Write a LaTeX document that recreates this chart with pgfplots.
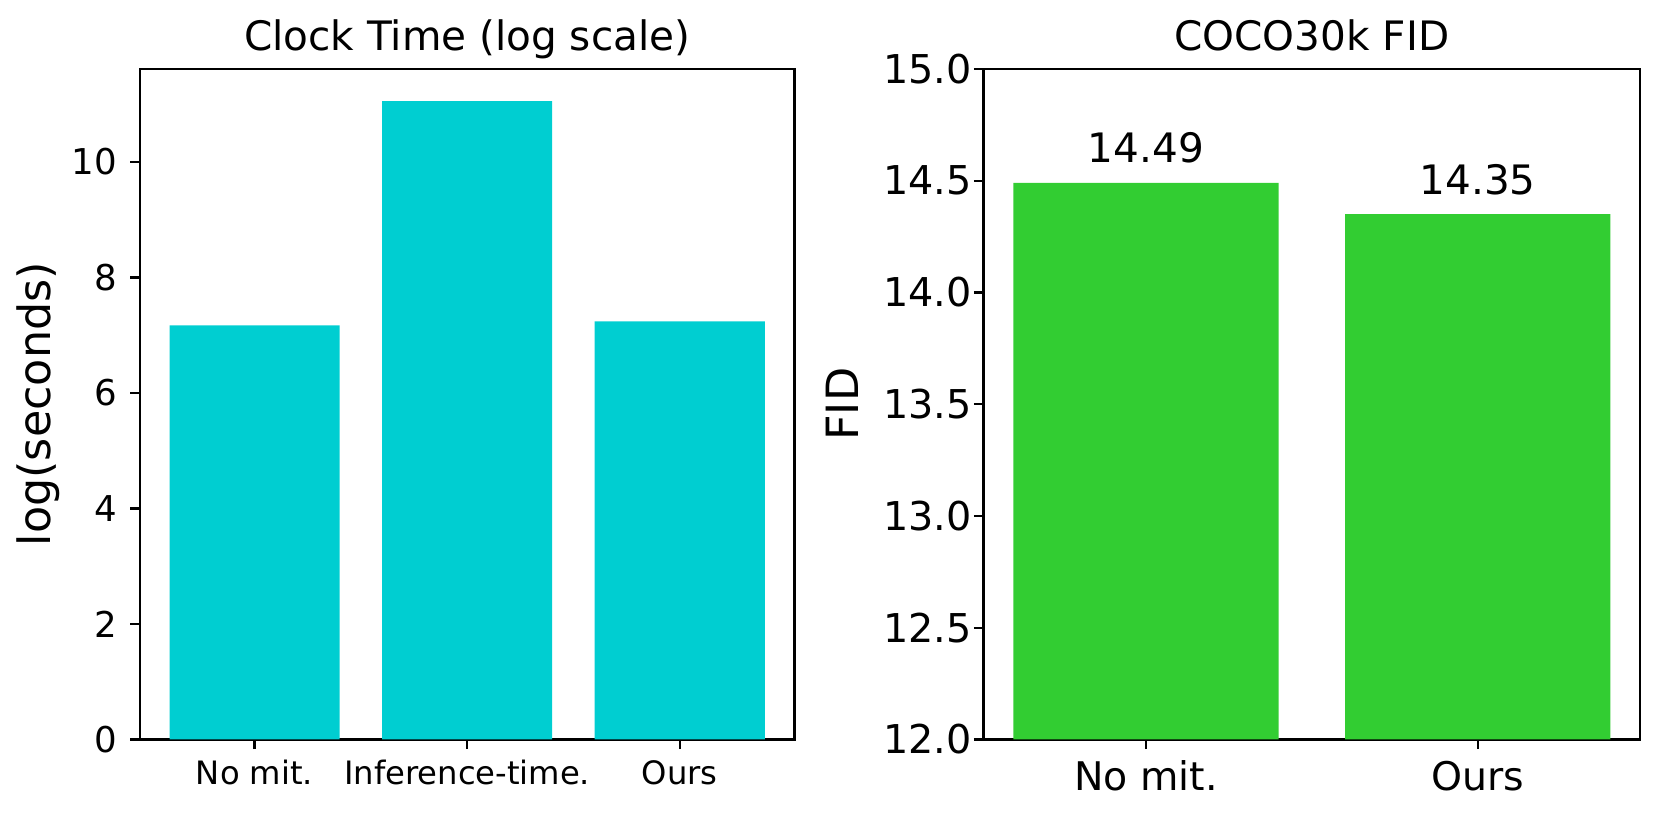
\documentclass[border=0pt]{standalone}
\usepackage{fontspec}
\setmainfont{DejaVu Sans}
\usepackage{pgfplots}
\pgfplotsset{compat=1.18}
\definecolor{turq}{RGB}{0,206,209}
\definecolor{lgreen}{RGB}{50,205,50}
\begin{document}
\begin{tikzpicture}
\useasboundingbox (0,0) rectangle (597.96bp,-294.48bp);
\pgfplotsset{
  mpl/.style={
    scale only axis, width=235.7bp, height=241.4bp,
    axis line style={line width=0.8bp},
    tick align=outside, tick pos=left, major tick length=3.5bp,
    major tick style={line width=0.8bp, black},
    /pgf/number format/assume math mode=true,
    every axis title shift=0pt,
    title style={at={(0.5,1)}, anchor=base, yshift=6.5bp, inner sep=0pt, font=\fontsize{14.6bp}{17bp}\selectfont},
    ylabel style={anchor=base, inner sep=0pt, font=\fontsize{16bp}{19bp}\selectfont},
  }
}
\begin{axis}[mpl, at={(50.33bp,-266.2bp)}, anchor=south west,
  xmin=-0.54, xmax=2.54, ymin=0, ymax=11.61,
  xtick={0,1,2}, xticklabels={No mit., Inference-time., Ours},
  ytick={0,2,4,6,8,10},
  title={Clock Time (log scale)},
  ylabel={log(seconds)},
  ylabel style={at={(axis description cs:-0.136,0.5)}},
  xticklabel style={anchor=base, inner sep=0pt, yshift=-12.6bp, font=\fontsize{11.6bp}{14bp}\selectfont},
  yticklabel style={anchor=east, inner sep=0pt, xshift=-4.5bp, font=\fontsize{12.8bp}{15bp}\selectfont},
]
\addplot[ybar, bar width=0.8, fill=turq, draw=none] coordinates {(0,7.17) (1,11.05) (2,7.24)};
\end{axis}
\begin{axis}[mpl, at={(354.06bp,-266.2bp)}, anchor=south west, width=236.4bp,
  xmin=-0.49, xmax=1.49, ymin=12, ymax=15,
  xtick={0,1}, xticklabels={No mit., Ours},
  ytick={12,12.5,13,13.5,14,14.5,15},
  yticklabel style={anchor=east, inner sep=0pt, xshift=-0.6bp, font=\fontsize{14.3bp}{17bp}\selectfont, /pgf/number format/fixed, /pgf/number format/fixed zerofill, /pgf/number format/precision=1},
  title={COCO30k FID},
  ylabel={FID},
  ylabel style={at={(axis description cs:-0.1904,0.5)}},
  xticklabel style={anchor=base, inner sep=0pt, yshift=-14.85bp, font=\fontsize{14.2bp}{17bp}\selectfont},
]
\addplot[ybar, bar width=0.8, fill=lgreen, draw=none,
  nodes near coords={\pgfmathprintnumber[fixed,fixed zerofill,precision=2]{\pgfplotspointmeta}},
  nodes near coords style={anchor=base, inner sep=0pt, yshift=7.2bp, text=black, font=\fontsize{14.6bp}{17bp}\selectfont}]
  coordinates {(0,14.49) (1,14.35)};
\end{axis}
\end{tikzpicture}
\end{document}
